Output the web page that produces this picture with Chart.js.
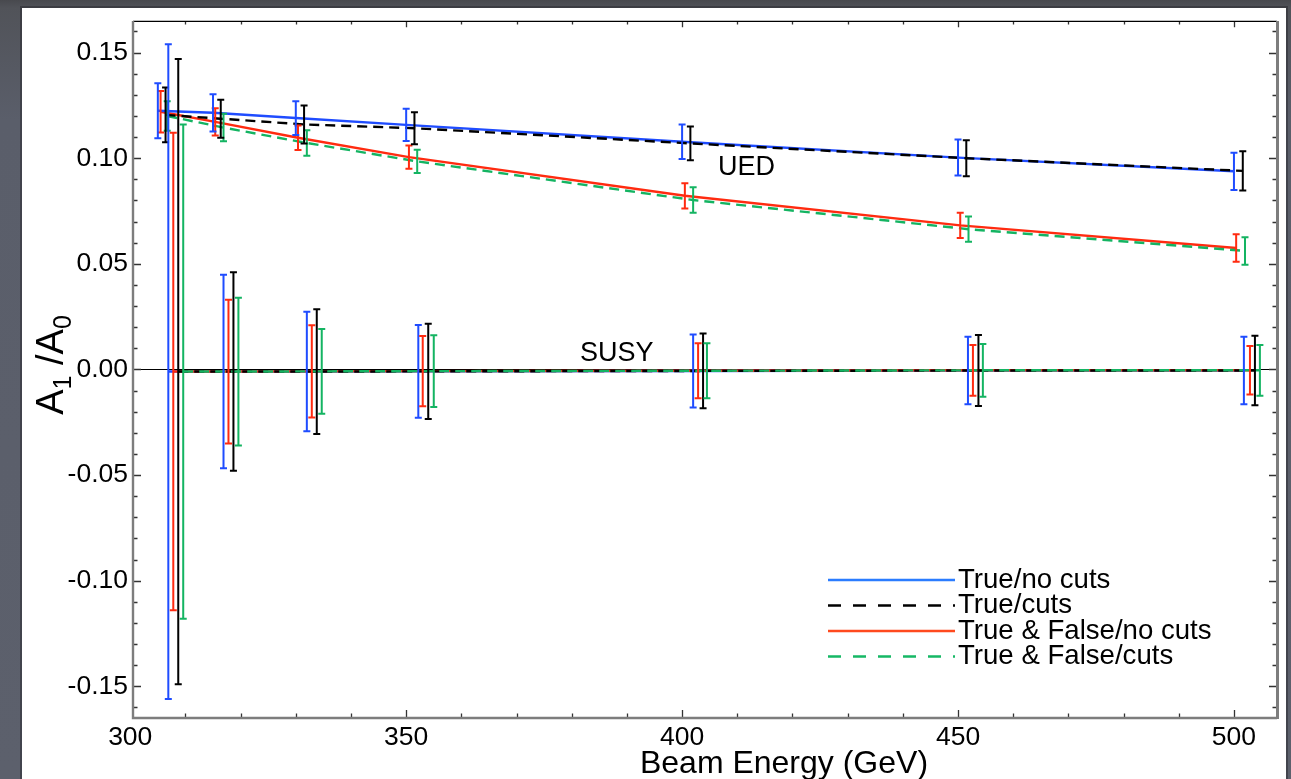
<!DOCTYPE html>
<html><head><meta charset="utf-8">
<script src="https://cdn.jsdelivr.net/npm/chart.js@4.4.1/dist/chart.umd.min.js"></script>
<style>
html,body{margin:0;padding:0;width:1291px;height:779px;overflow:hidden;}
body{background:linear-gradient(180deg,#48494e 0px,#515359 8px,#5a5e6a 120px,#5c606c 779px);}
#c{position:absolute;left:0;top:0;}
</style></head><body>
<canvas id="c" width="1291" height="779"></canvas>
<script>
// ---------- data ----------
const energies = [305, 315, 330, 350, 400, 450, 500];
const xTickValues = [300, 350, 400, 450, 500];
const yTickValues = [-0.15, -0.10, -0.05, 0.00, 0.05, 0.10, 0.15];
const seriesLabels = ['True/no cuts', 'True/cuts', 'True & False/no cuts', 'True & False/cuts'];

// UED curves (points plotted slightly shifted in energy per series)
const uedXBlue  = [305.0, 315.0, 330.0, 350.0, 400.0, 450.0, 500.0];
const uedXRed   = [305.5, 315.4, 330.4, 350.5, 400.5, 450.4, 500.4];
const uedXBlack = [306.4, 316.4, 331.5, 351.5, 401.5, 451.5, 501.6];
const uedXGreen = [306.7, 316.9, 332.0, 352.0, 402.0, 451.9, 502.0];

const uedYBlue  = [0.1225, 0.1215, 0.1190, 0.1158, 0.1078, 0.1003, 0.0938];
const uedYBlack = [0.1205, 0.1187, 0.1160, 0.1142, 0.1070, 0.1000, 0.0940];
const uedYRed   = [0.1220, 0.1172, 0.1097, 0.1005, 0.0822, 0.0682, 0.0575];
const uedYGreen = [0.1200, 0.1145, 0.1072, 0.0985, 0.0802, 0.0664, 0.0561];

const uedEBlue  = [0.0130, 0.0088, 0.0080, 0.0076, 0.0082, 0.0085, 0.0088];
const uedEBlack = [0.0130, 0.0090, 0.0090, 0.0076, 0.0080, 0.0085, 0.0093];
const uedERed   = [0.0098, 0.0064, 0.0058, 0.0055, 0.0060, 0.0060, 0.0065];
const uedEGreen = [0.0070, 0.0065, 0.0060, 0.0055, 0.0060, 0.0060, 0.0065];

// SUSY curves
const susyXBlue  = [306.9, 316.9, 332.0, 352.2, 402.0, 451.8, 501.8];
const susyXRed   = [307.8, 317.8, 332.9, 353.0, 402.9, 452.7, 502.9];
const susyXBlack = [308.7, 318.7, 333.8, 354.0, 403.8, 453.7, 503.8];
const susyXGreen = [309.6, 319.6, 334.7, 355.0, 404.5, 454.5, 504.7];

const susyYBlue  = [-0.0010, -0.0010, -0.0010, -0.0009, -0.0007, -0.0005, -0.0005];
const susyYBlack = [-0.0010, -0.0010, -0.0010, -0.0009, -0.0007, -0.0005, -0.0005];
const susyYRed   = [-0.0010, -0.0010, -0.0009, -0.0008, -0.0006, -0.0004, -0.0004];
const susyYGreen = [-0.0010, -0.0010, -0.0009, -0.0008, -0.0006, -0.0004, -0.0004];

const susyEBlue  = [0.1550, 0.0458, 0.0283, 0.0220, 0.0173, 0.0160, 0.0160];
const susyEBlack = [0.1480, 0.0470, 0.0295, 0.0225, 0.0177, 0.0168, 0.0165];
const susyERed   = [0.1130, 0.0340, 0.0218, 0.0166, 0.0130, 0.0120, 0.0115];
const susyEGreen = [0.1170, 0.0350, 0.0201, 0.0170, 0.0130, 0.0125, 0.0120];

// text annotations in data coordinates
const annotations = [
  {text: 'UED',  x: 406.5, y: 0.0920},
  {text: 'SUSY', x: 381.5, y: 0.0038}
];

// ---------- styles ----------
const FONT = '"Liberation Sans", Arial, Helvetica, sans-serif';
const COL = {blue: '#1f4cff', black: '#000000', red: '#ff2b10', green: '#14b462'};
const LEGCOL = ['#2b7cff', '#000000', '#ff4a1e', '#16b865'];
const DASH = {blue: [], black: [10, 6], red: [], green: [10, 6]};
const LEGDASH = [[], [13, 12], [], [13, 12]];

function pts(xs, ys) { return xs.map((x, i) => ({x: x, y: ys[i]})); }
function mk(label, key, xs, ys, es) {
  return {
    label: label, data: pts(xs, ys), err: es,
    borderColor: COL[key], backgroundColor: COL[key], borderWidth: 2.4,
    borderDash: DASH[key], pointRadius: 0, tension: 0, fill: false, showLine: true
  };
}
// Chart.js draws index 0 on top: list top-most first
const datasets = [
  mk(seriesLabels[3], 'green', susyXGreen, susyYGreen, susyEGreen),
  mk(seriesLabels[1], 'black', susyXBlack, susyYBlack, susyEBlack),
  mk(seriesLabels[2], 'red',   susyXRed,   susyYRed,   susyERed),
  mk(seriesLabels[0], 'blue',  susyXBlue,  susyYBlue,  susyEBlue),
  mk(seriesLabels[1], 'black', uedXBlack,  uedYBlack,  uedEBlack),
  mk(seriesLabels[0], 'blue',  uedXBlue,   uedYBlue,   uedEBlue),
  mk(seriesLabels[3], 'green', uedXGreen,  uedYGreen,  uedEGreen),
  mk(seriesLabels[2], 'red',   uedXRed,    uedYRed,    uedERed)
];

// ---------- plugins ----------
const bgPlugin = {
  id: 'bg',
  beforeDraw(chart) {
    const c = chart.ctx;
    c.save();
    c.fillStyle = 'rgba(40,40,45,0.5)';
    c.fillRect(20, 6, 1268, 773);
    c.fillStyle = '#ffffff';
    c.fillRect(22, 8, 1264, 771);
    c.restore();
  }
};

const zeroLine = {
  id: 'zeroLine',
  beforeDatasetsDraw(chart) {
    const {ctx, chartArea: a, scales: {y}} = chart;
    const py = Math.round(y.getPixelForValue(0)) + 0.5;
    ctx.save();
    ctx.strokeStyle = '#000'; ctx.lineWidth = 1;
    ctx.beginPath(); ctx.moveTo(a.left, py); ctx.lineTo(a.right, py); ctx.stroke();
    ctx.restore();
  }
};

const errorBars = {
  id: 'errorBars',
  afterDatasetsDraw(chart) {
    const {ctx, scales: {x, y}} = chart;
    ctx.save();
    ctx.setLineDash([]);
    ctx.lineWidth = 2;
    chart.data.datasets.slice().reverse().forEach((ds) => {
      ctx.strokeStyle = ds.borderColor;
      ds.data.forEach((p, i) => {
        const e = ds.err[i];
        const px = x.getPixelForValue(p.x);
        const pt = y.getPixelForValue(p.y + e);
        const pb = y.getPixelForValue(p.y - e);
        ctx.beginPath();
        ctx.moveTo(px, pt); ctx.lineTo(px, pb);
        ctx.moveTo(px - 3.5, pt); ctx.lineTo(px + 3.5, pt);
        ctx.moveTo(px - 3.5, pb); ctx.lineTo(px + 3.5, pb);
        ctx.stroke();
      });
    });
    ctx.restore();
  }
};

const frame = {
  id: 'frame',
  afterDraw(chart) {
    const {ctx, chartArea: a, scales: {x, y}} = chart;
    ctx.save();
    ctx.setLineDash([]);
    // ticks
    ctx.strokeStyle = '#333'; ctx.lineWidth = 1.3;
    ctx.beginPath();
    for (let v = 310; v <= 507; v += 10) {
      const px = Math.round(x.getPixelForValue(v)) + 0.5;
      const L = (v % 50 === 0) ? 8 : 4.5;
      ctx.moveTo(px, a.bottom); ctx.lineTo(px, a.bottom - L);
      ctx.moveTo(px, a.top); ctx.lineTo(px, a.top + L * 0.8);
    }
    for (let k = -16; k <= 16; k++) {
      const v = k / 100;
      const py = Math.round(y.getPixelForValue(v)) + 0.5;
      const L = (k % 5 === 0) ? 8 : 4.5;
      ctx.moveTo(a.left, py); ctx.lineTo(a.left + L, py);
      ctx.moveTo(a.right, py); ctx.lineTo(a.right - L, py);
    }
    ctx.stroke();
    // frame
    ctx.strokeStyle = '#000'; ctx.lineWidth = 1.2;
    ctx.beginPath(); ctx.moveTo(a.left, a.top + 0.5); ctx.lineTo(a.right, a.top + 0.5); ctx.stroke();
    ctx.strokeStyle = '#7d7d7d'; ctx.lineWidth = 2.4;
    ctx.beginPath();
    ctx.moveTo(a.left, a.top); ctx.lineTo(a.left, a.bottom); ctx.lineTo(a.right, a.bottom);
    ctx.stroke();
    ctx.lineWidth = 3;
    ctx.beginPath(); ctx.moveTo(a.right + 0.5, a.top); ctx.lineTo(a.right + 0.5, a.bottom + 1); ctx.stroke();

    // annotations
    ctx.fillStyle = '#000';
    ctx.font = '27px ' + FONT;
    ctx.textAlign = 'left'; ctx.textBaseline = 'alphabetic';
    annotations.forEach(an => {
      ctx.fillText(an.text, x.getPixelForValue(an.x), y.getPixelForValue(an.y));
    });

    // legend
    const rows = [580, 605.5, 631, 656.5];
    ctx.font = '27.6px ' + FONT;
    seriesLabels.forEach((lab, i) => {
      ctx.strokeStyle = LEGCOL[i]; ctx.lineWidth = 2.4; ctx.setLineDash(LEGDASH[i]);
      ctx.beginPath(); ctx.moveTo(828, rows[i]); ctx.lineTo(955, rows[i]); ctx.stroke();
      ctx.setLineDash([]);
      ctx.fillStyle = '#000';
      ctx.fillText(lab, 958, rows[i] + 7.5);
    });

    // x title
    ctx.font = '32px ' + FONT;
    ctx.textAlign = 'center';
    ctx.fillText('Beam Energy (GeV)', 784, 773);

    // y title with subscripts
    const big = '38px ' + FONT, small = '25px ' + FONT;
    const parts = [['A', big, 0], ['1', small, 8], [' /', big, 0], ['A', big, 0], ['0', small, 8]];
    let total = 0;
    parts.forEach(p => { ctx.font = p[1]; total += ctx.measureText(p[0]).width; });
    ctx.translate(63, 365);
    ctx.rotate(-Math.PI / 2);
    ctx.textAlign = 'left';
    let cx = -total / 2;
    parts.forEach(p => {
      ctx.font = p[1];
      ctx.fillText(p[0], cx, p[2]);
      cx += ctx.measureText(p[0]).width;
    });
    ctx.restore();
  }
};

new Chart(document.getElementById('c').getContext('2d'), {
  type: 'line',
  data: {datasets: datasets},
  options: {
    responsive: false, animation: false, devicePixelRatio: 1,
    layout: {padding: {left: 0, top: 13, right: 14, bottom: 0}},
    plugins: {legend: {display: false}, tooltip: {enabled: false}},
    scales: {
      x: {
        type: 'linear', min: 300.5, max: 507.8,
        afterFit(s) { s.height = 61; },
        afterBuildTicks(s) { s.ticks = xTickValues.map(v => ({value: v})); },
        grid: {display: false, drawTicks: false}, border: {display: false},
        ticks: {padding: 4, color: '#000', font: {family: FONT, size: 26.5}, maxRotation: 0, autoSkip: false,
                callback: v => String(v)}
      },
      y: {
        type: 'linear', min: -0.165, max: 0.165,
        afterFit(s) { s.width = 133; },
        afterBuildTicks(s) { s.ticks = yTickValues.map(v => ({value: v})); },
        grid: {display: false, drawTicks: false}, border: {display: false},
        ticks: {padding: 5, color: '#000', font: {family: FONT, size: 26.5}, autoSkip: false,
                callback: v => v.toFixed(2)}
      }
    }
  },
  plugins: [bgPlugin, zeroLine, errorBars, frame]
});
</script>
</body></html>
